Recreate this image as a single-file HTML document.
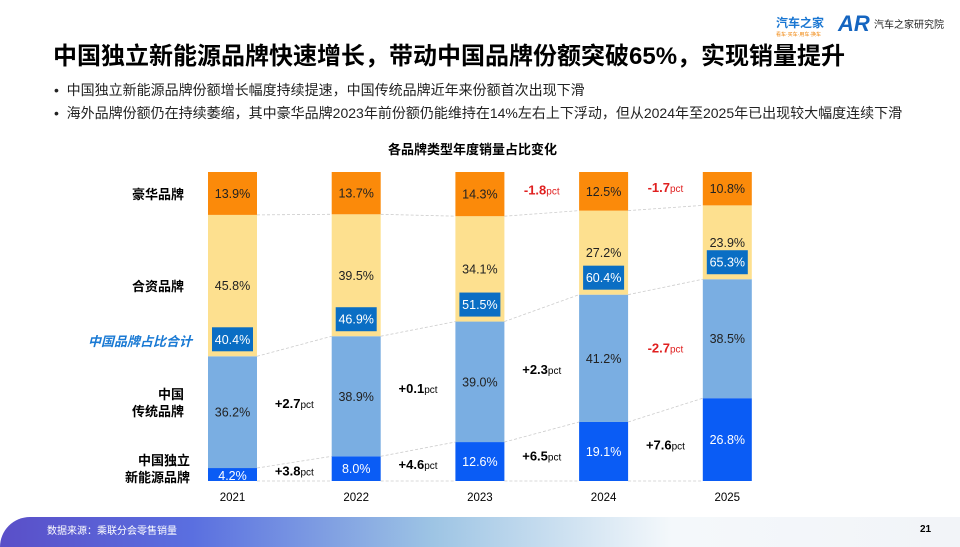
<!DOCTYPE html>
<html><head><meta charset="utf-8">
<style>
body{margin:0;width:960px;height:540px;overflow:hidden;background:#fff;font-family:"Liberation Sans","Noto Sans CJK SC",sans-serif;position:relative}
.t{position:absolute;white-space:nowrap}
</style></head>
<body>
<div class="t" style="left:776px;top:14px;font-size:12px;font-weight:bold;color:#1976d2">汽车之家<div style="font-size:5px;color:#f08000;font-weight:normal">看车·买车·用车·换车</div></div>
<div class="t" style="left:838px;top:11px;font-size:22px;font-weight:bold;color:#1565c0;font-style:italic">AR</div>
<div class="t" style="left:874px;top:16px;font-size:10px;color:#222">汽车之家研究院</div>
<div class="t" style="left:53px;top:36px;font-size:24px;font-weight:bold;color:#000">中国独立新能源品牌快速增长，带动中国品牌份额突破65%，实现销量提升</div>
<div class="t" style="left:54px;top:80px;font-size:14px;color:#222">•&nbsp;&nbsp;中国独立新能源品牌份额增长幅度持续提速，中国传统品牌近年来份额首次出现下滑</div>
<div class="t" style="left:54px;top:103px;font-size:14px;color:#222">•&nbsp;&nbsp;海外品牌份额仍在持续萎缩，其中豪华品牌2023年前份额仍能维持在14%左右上下浮动，但从2024年至2025年已出现较大幅度连续下滑</div>
<div class="t" style="left:388px;top:139px;font-size:13px;font-weight:bold;color:#000">各品牌类型年度销量占比变化</div>
<div class="t" style="left:127px;top:184px;font-size:13px;font-weight:bold;text-align:right;width:57px">豪华品牌</div>
<div class="t" style="left:127px;top:276px;font-size:13px;font-weight:bold;text-align:right;width:57px">合资品牌</div>
<div class="t" style="left:88px;top:331px;font-size:13px;font-weight:bold;font-style:italic;color:#1a7ad4">中国品牌占比合计</div>
<div class="t" style="left:127px;top:386px;font-size:13px;font-weight:bold;text-align:right;width:57px;line-height:17px">中国<br>传统品牌</div>
<div class="t" style="left:100px;top:452px;font-size:13px;font-weight:bold;text-align:right;width:90px;line-height:17px">中国独立<br>新能源品牌</div>
<svg id="chart" width="960" height="540" style="position:absolute;left:0;top:0"></svg>
<div style="position:absolute;left:0;top:517px;width:960px;height:30px;border-radius:40px 0 0 0;background:linear-gradient(90deg,#5a4fc8 0%,#5a6fe0 20%,#9dc4e4 45%,#f4f8fb 70%,#f2f4f8 100%)"></div>
<div class="t" style="left:47px;top:522px;font-size:10px;color:#fff">数据来源：乘联分会零售销量</div>
<div class="t" style="left:920px;top:524px;font-size:10px;font-weight:bold;color:#000">21</div>
<script>
const years=["2021","2022","2023","2024","2025"];
const nev=[4.2,8.0,12.6,19.1,26.8];
const trad=[36.2,38.9,39.0,41.2,38.5];
const jv=[45.8,39.5,34.1,27.2,23.9];
const lux=[13.9,13.7,14.3,12.5,10.8];
const total=[40.4,46.9,51.5,60.4,65.3];
const nevDelta=["+3.8","+4.6","+6.5","+7.6"];
const tradDelta=["+2.7","+0.1","+2.3","-2.7"];
const luxDelta=[null,null,"-1.8","-1.7"];
const svg=document.getElementById('chart');
const NS="http://www.w3.org/2000/svg";
const x0=208,step=123.7,bw=49,yTop=172,yBot=481;
const xs=i=>x0+i*step;
function mk(tag,a){const e=document.createElementNS(NS,tag);for(const k in a)e.setAttribute(k,a[k]);svg.appendChild(e);return e;}
const bounds=[];
years.forEach((y,i)=>{
 const vals=[nev[i],trad[i],jv[i],lux[i]];
 const sum=vals.reduce((a,b)=>a+b,0);
 const h=v=>v/sum*(yBot-yTop);
 const cols=["#0a5cf5","#7aaee2","#fde08f","#fb8a0a"];
 const tc=["#fff","#222","#222","#222"];
 let yc=yBot;const b=[yBot];
 vals.forEach((v,k)=>{
  const hh=h(v);yc-=hh;
  const r=mk('rect',{x:xs(i),y:yc,width:bw,height:hh,fill:cols[k]});
  
  
  let ty=yc+hh/2+4.5;
  if(k==0&&i==0) ty=yBot-1;
  const t=mk('text',{x:xs(i)+bw/2,y:ty,'text-anchor':'middle','font-size':12.5,fill:tc[k]});
  t.textContent=v.toFixed(1)+'%';
  
  
  b.push(yc);
 });
 bounds.push(b);
 const by=b[2];
 const r=mk('rect',{x:xs(i)+4,y:by-29,width:41,height:24,fill:"#0a6ec4"});
 
 
 const t=mk('text',{x:xs(i)+bw/2,y:by-12.5,'text-anchor':'middle','font-size':12.5,fill:"#fff"});
 t.textContent=total[i].toFixed(1)+'%';
 
 
 const yl=mk('text',{x:xs(i)+bw/2,y:501,'text-anchor':'middle','font-size':11.5,fill:"#000"});
 yl.textContent=y;
 
 
});
for(let i=0;i<years.length-1;i++){
 [0,1,2,3].forEach(k=>{
  const l=mk('line',{x1:xs(i)+bw,y1:bounds[i][k],x2:xs(i+1),y2:bounds[i+1][k],stroke:"#ccc","stroke-dasharray":"3,2","stroke-width":0.8});
  
  
 });
 const cx=xs(i)+bw+(step-bw)/2;
 const put=(txt,y,red,name)=>{
  const t=mk('text',{x:cx,y:y,'text-anchor':'middle','font-size':13,'font-weight':'bold',fill:red?"#e02020":"#000"});
  t.innerHTML=txt+'<tspan font-size="10" font-weight="normal">pct</tspan>';
  
  
 };
 const c=(k,j)=>(bounds[j][k]+bounds[j][k+1])/2;
 put(nevDelta[i],(c(0,i)+c(0,i+1))/2+4,nevDelta[i][0]=='-','nev-delta-'+i);
 put(tradDelta[i],(c(1,i)+c(1,i+1))/2+4,tradDelta[i][0]=='-','trad-delta-'+i);
 if(luxDelta[i]) put(luxDelta[i],(c(3,i)+c(3,i+1))/2+2,true,'lux-delta-'+i);
}
</script>
</body></html>
